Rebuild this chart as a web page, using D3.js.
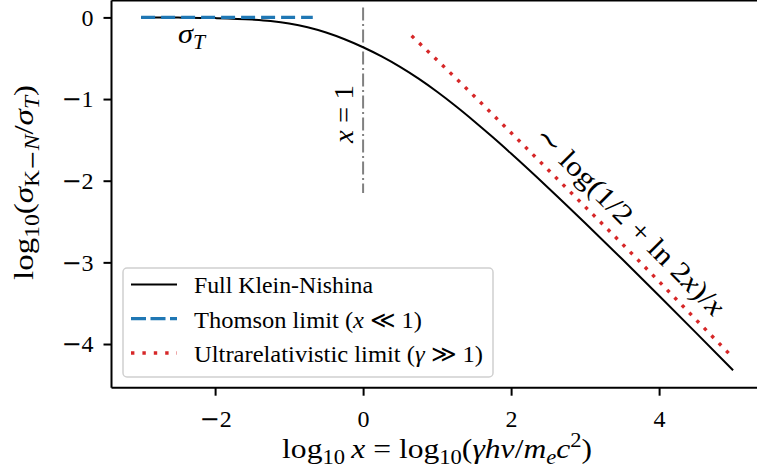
<!DOCTYPE html>
<html>
<head>
<meta charset="utf-8">
<script src="https://cdn.jsdelivr.net/npm/d3@7"></script>
<style>
  html, body { margin: 0; padding: 0; background: #fff; }
  svg { display: block; }
  text { font-family: "Liberation Serif", "DejaVu Serif", serif; fill: #000; }
</style>
</head>
<body>
<script>
// ---------------- data ----------------
const knLogX = [-3, -2.5, -2, -1.5, -1.25, -1, -0.75, -0.5, -0.25, 0, 0.25, 0.5, 0.75, 1, 1.25, 1.5, 1.75, 2, 2.5, 3, 3.5, 4, 4.5, 5];
const knLogSigma = [-0.0009, -0.0027, -0.0085, -0.0262, -0.0449, -0.0750, -0.1212, -0.1854, -0.2678, -0.3658, -0.4781, -0.6060, -0.7505, -0.9110, -1.0853, -1.2711, -1.4657, -1.6674, -2.0857, -2.5180, -2.9599, -3.4088, -3.8632, -4.3220];

const thLogX = [-3, -0.68];
const thLogSigma = [0, 0];

const urLogX = [0.655, 1.0, 1.5, 2.0, 2.5, 3.0, 3.5, 4.0, 4.5, 5.0];
const urLogSigma = [-0.225, -0.523, -0.963, -1.413, -1.866, -2.318, -2.772, -3.235, -3.703, -4.168];

const vLineX = [0, 0];
const vLineY = [0.12, -2.15];

const xTicks = [-2, 0, 2, 4];
const yTicks = [0, -1, -2, -3, -4];

const legendLabels = ["Full Klein-Nishina", "Thomson limit", "Ultrarelativistic limit"];

// ---------------- layout ----------------
const W = 757, H = 475;
const svg = d3.select("body").append("svg").attr("width", W).attr("height", H);

const x = d3.scaleLinear().domain([-3.4, 5.4]).range([111.5, 762.7]);
const y = d3.scaleLinear().domain([-4.535, 0.207]).range([387.7, 0.5]);

const TFS = 24;   // tick / legend font size
const LFS = 28;   // label font size
const SFS = 20;   // subscript font size
const colors = { kn: "#000000", th: "#1f77b4", ur: "#d62728", v: "#808080" };

const zip = (a, b) => a.map((v, i) => [v, b[i]]);
const lin = d3.line().x(d => x(d[0])).y(d => y(d[1]));
const smooth = d3.line().x(d => x(d[0])).y(d => y(d[1])).curve(d3.curveMonotoneX);

// vertical x=1 line
svg.append("path")
  .attr("d", lin(zip(vLineX, vLineY)))
  .attr("fill", "none").attr("stroke", colors.v)
  .attr("stroke-width", 2).attr("stroke-dasharray", "13,3.5,2,3.5");

// Full KN
svg.append("path")
  .attr("d", smooth(zip(knLogX, knLogSigma)))
  .attr("fill", "none").attr("stroke", colors.kn).attr("stroke-width", 2);

// Thomson
svg.append("path")
  .attr("d", lin(zip(thLogX, thLogSigma)))
  .attr("fill", "none").attr("stroke", colors.th)
  .attr("stroke-width", 3.3).attr("stroke-dasharray", "14,6");

// Ultrarelativistic
svg.append("path")
  .attr("d", smooth(zip(urLogX, urLogSigma)))
  .attr("fill", "none").attr("stroke", colors.ur)
  .attr("stroke-width", 3.4).attr("stroke-dasharray", "3.4,7.2");

// ---------------- axes ----------------
function tickText(sel) {
  sel.each(function (d) {
    const t = d3.select(this).text(null);
    if (d < 0) t.append("tspan").attr("font-family", '"DejaVu Serif", serif').text("\u2212");
    t.append("tspan").text(Math.abs(d));
  });
}
const xAxis = d3.axisBottom(x).tickValues(xTicks).tickSize(8).tickPadding(14);
const gx = svg.append("g").attr("transform", `translate(0,${y.range()[0]})`).call(xAxis);
const yAxis = d3.axisLeft(y).tickValues(yTicks).tickSize(8).tickPadding(10);
const gy = svg.append("g").attr("transform", `translate(${x.range()[0]},0)`).call(yAxis);
[gx, gy].forEach(g => {
  g.select(".domain").attr("stroke-width", 2).attr("stroke", "#000");
  g.selectAll(".tick line").attr("stroke-width", 2).attr("stroke", "#000");
  g.selectAll(".tick text").attr("font-family", '"Liberation Serif", serif')
    .attr("font-size", TFS).attr("fill", "#000").call(tickText);
});
gx.select(".domain").attr("d", `M${x.range()[0]},0H${x.range()[1]}`);
gy.select(".domain").attr("d", `M0,${y.range()[0]}V${y.range()[1]}`);
// top spine
svg.append("line").attr("x1", x.range()[0]).attr("x2", x.range()[1])
  .attr("y1", y.range()[1]).attr("y2", y.range()[1]).attr("stroke", "#000").attr("stroke-width", 2);

// helper for rich text
function rich(sel, parts, size) {
  parts.forEach(p => {
    const t = sel.append("tspan").text(p.t);
    if (p.it) t.attr("font-style", "italic");
    if (p.dy) t.attr("dy", p.dy);
    if (p.ff) t.attr("font-family", p.ff);
    t.attr("font-size", p.fs || size);
  });
}
const DJ = '"DejaVu Serif", serif';

// x-axis label
{
  const t = svg.append("text").attr("x", x(1)).attr("y", 458).attr("text-anchor", "middle")
    .attr("font-size", LFS).attr("textLength", 310).attr("lengthAdjust", "spacingAndGlyphs");
  rich(t, [
    { t: "log" }, { t: "10", dy: 6, fs: SFS }, { t: "\u2009", dy: -6 }, { t: "x", it: true },
    { t: " = log" }, { t: "10", dy: 6, fs: SFS }, { t: "(", dy: -6 }, { t: "γhν", it: true },
    { t: "/" }, { t: "m", it: true }, { t: "e", it: true, dy: 6, fs: SFS }, { t: "c", it: true, dy: -6 },
    { t: "2", dy: -11, fs: SFS }, { t: ")", dy: 11 }
  ], LFS);
}
// y-axis label
{
  const t = svg.append("text").attr("transform", "translate(33,182.5) rotate(-90)").attr("text-anchor", "middle")
    .attr("font-size", LFS).attr("textLength", 195).attr("lengthAdjust", "spacingAndGlyphs");
  rich(t, [
    { t: "log" }, { t: "10", dy: 6, fs: SFS }, { t: "(", dy: -6 }, { t: "σ", it: true },
    { t: "K", dy: 6, fs: SFS }, { t: "\u2212", fs: SFS, ff: DJ }, { t: "N", it: true, fs: SFS }, { t: "/", dy: -6 }, { t: "σ", it: true },
    { t: "T", it: true, dy: 6, fs: SFS }, { t: ")", dy: -6 }
  ], LFS);
}

// sigma_T label
{
  const t = svg.append("text").attr("x", 178).attr("y", 43).attr("font-size", LFS)
    .attr("textLength", 27).attr("lengthAdjust", "spacingAndGlyphs");
  rich(t, [{ t: "σ", it: true }, { t: "T", it: true, dy: 6, fs: SFS }], LFS);
}
// x = 1 label
{
  const t = svg.append("text").attr("transform", "translate(353,114) rotate(-90)").attr("text-anchor", "middle")
    .attr("font-size", LFS).attr("textLength", 58).attr("lengthAdjust", "spacingAndGlyphs");
  rich(t, [{ t: "x", it: true }, { t: " = 1" }], LFS);
}
// asymptote annotation
{
  const t = svg.append("text").attr("transform", "translate(630,221) rotate(45)")
    .attr("text-anchor", "middle").attr("dy", "0.33em").attr("font-size", LFS)
    .attr("textLength", 255).attr("lengthAdjust", "spacingAndGlyphs");
  rich(t, [{ t: "\u223C log(1/2 + ln 2" }, { t: "x", it: true }, { t: ")/" }, { t: "x", it: true }], LFS);
}

// ---------------- legend ----------------
const lg = svg.append("g");
lg.append("rect").attr("x", 123).attr("y", 268).attr("width", 370).attr("height", 109)
  .attr("rx", 4).attr("fill", "#fff").attr("fill-opacity", 0.8)
  .attr("stroke", "#d0d0d0").attr("stroke-width", 1.5);
const rows = [
  { base: 293.3, c: colors.kn, w: 2, dash: null, len: 179, parts: [{ t: legendLabels[0] }] },
  { base: 327.5, c: colors.th, w: 3.3, dash: "15,4.5", len: 228, parts: [{ t: legendLabels[1] + " (" }, { t: "x", it: true }, { t: " \u226A 1)" }] },
  { base: 361.8, c: colors.ur, w: 3.4, dash: "3.4,8", len: 289, parts: [{ t: legendLabels[2] + " (" }, { t: "γ", it: true }, { t: " \u226B 1)" }] }
];
rows.forEach(r => {
  const ly = r.base - 8.8;
  lg.append("line").attr("x1", 131).attr("x2", 177).attr("y1", ly).attr("y2", ly)
    .attr("stroke", r.c).attr("stroke-width", r.w).attr("stroke-dasharray", r.dash);
  const t = lg.append("text").attr("x", 194).attr("y", r.base).attr("font-size", TFS)
    .attr("textLength", r.len).attr("lengthAdjust", "spacingAndGlyphs");
  rich(t, r.parts, TFS);
});
</script>
</body>
</html>
